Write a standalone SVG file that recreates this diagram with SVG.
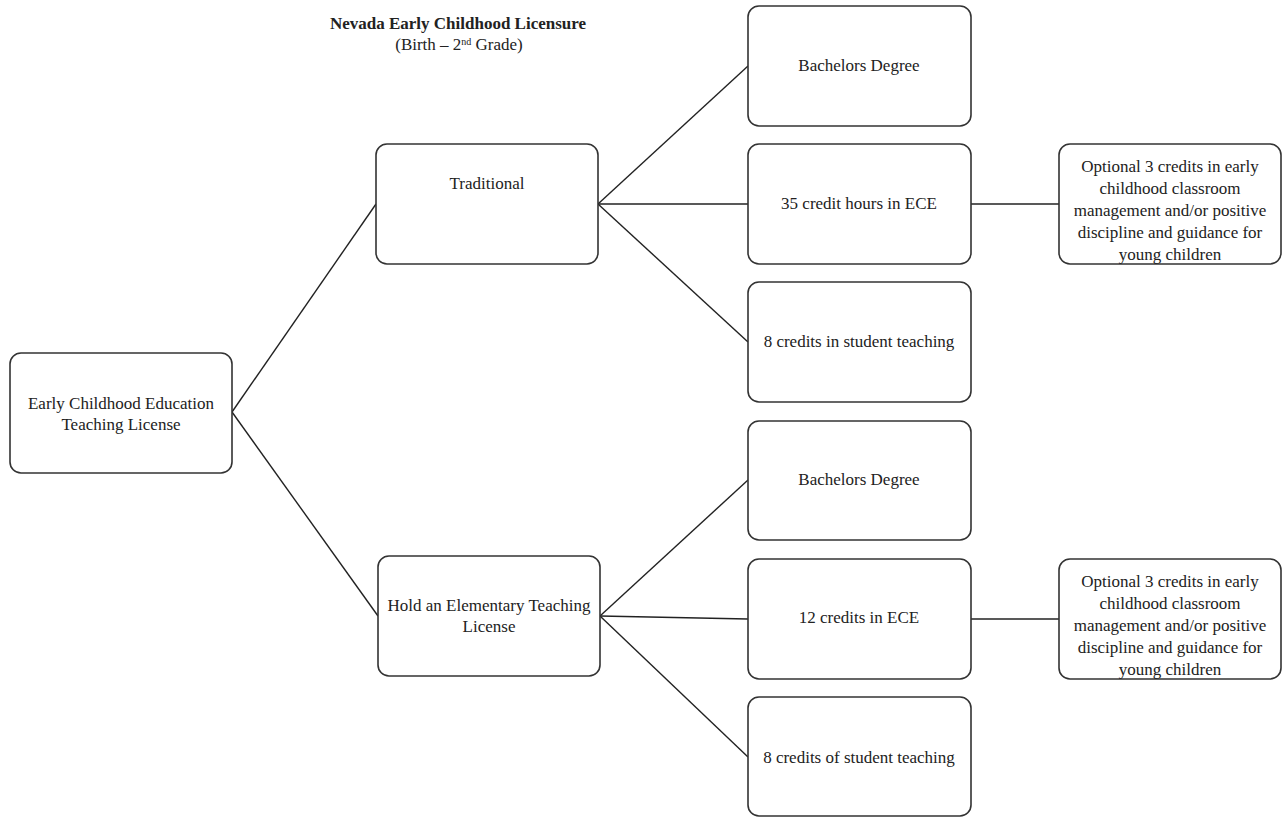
<svg xmlns="http://www.w3.org/2000/svg" width="1284" height="818" viewBox="0 0 1284 818">
<style>
.box{fill:#fff;stroke:#333;stroke-width:1.6}
.t{font-family:"Liberation Serif",serif;font-size:17px;fill:#222;text-anchor:middle}
.b{font-weight:bold}
.c line{stroke:#222;stroke-width:1.4}
</style>
<rect width="1284" height="818" fill="#fff"/>
<g id="title">
<text class="t b" x="458" y="29">Nevada Early Childhood Licensure</text>
<text class="t" x="459" y="50">(Birth – 2<tspan font-size="10" dy="-5">nd</tspan><tspan dy="5"> Grade)</tspan></text>
</g>
<g class="c" id="connectors">
<line x1="232" y1="412" x2="376" y2="204"/>
<line x1="232" y1="412" x2="378" y2="616"/>
<line x1="598" y1="204" x2="748" y2="66"/>
<line x1="598" y1="204" x2="748" y2="204"/>
<line x1="598" y1="204" x2="748" y2="342"/>
<line x1="600" y1="616" x2="748" y2="480"/>
<line x1="600" y1="616" x2="748" y2="619"/>
<line x1="600" y1="616" x2="748" y2="757"/>
<line x1="971" y1="204" x2="1059" y2="204"/>
<line x1="971" y1="619" x2="1059" y2="619"/>
</g>
<g id="root"><rect class="box" x="10" y="353" width="222" height="120" rx="11"/>
<text class="t" x="121" y="409">Early Childhood Education</text>
<text class="t" x="121" y="430">Teaching License</text></g>
<g id="traditional"><rect class="box" x="376" y="144" width="222" height="120" rx="11"/>
<text class="t" x="487" y="189">Traditional</text></g>
<g id="hold"><rect class="box" x="378" y="556" width="222" height="120" rx="11"/>
<text class="t" x="489" y="611">Hold an Elementary Teaching</text>
<text class="t" x="489" y="632">License</text></g>
<g id="bach1"><rect class="box" x="748" y="6" width="223" height="120" rx="11"/>
<text class="t" x="859" y="71">Bachelors Degree</text></g>
<g id="ece35"><rect class="box" x="748" y="144" width="223" height="120" rx="11"/>
<text class="t" x="859" y="209">35 credit hours in ECE</text></g>
<g id="st8a"><rect class="box" x="748" y="282" width="223" height="120" rx="11"/>
<text class="t" x="859" y="347">8 credits in student teaching</text></g>
<g id="bach2"><rect class="box" x="748" y="421" width="223" height="119" rx="11"/>
<text class="t" x="859" y="485">Bachelors Degree</text></g>
<g id="ece12"><rect class="box" x="748" y="559" width="223" height="120" rx="11"/>
<text class="t" x="859" y="623">12 credits in ECE</text></g>
<g id="st8b"><rect class="box" x="748" y="697" width="223" height="119" rx="11"/>
<text class="t" x="859" y="763">8 credits of student teaching</text></g>
<g id="opt1"><rect class="box" x="1059" y="144" width="222" height="120" rx="11"/>
<text class="t" x="1170" y="172">Optional 3 credits in early</text>
<text class="t" x="1170" y="194">childhood classroom</text>
<text class="t" x="1170" y="216">management and/or positive</text>
<text class="t" x="1170" y="238">discipline and guidance for</text>
<text class="t" x="1170" y="260">young children</text></g>
<g id="opt2"><rect class="box" x="1059" y="559" width="222" height="120" rx="11"/>
<text class="t" x="1170" y="587">Optional 3 credits in early</text>
<text class="t" x="1170" y="609">childhood classroom</text>
<text class="t" x="1170" y="631">management and/or positive</text>
<text class="t" x="1170" y="653">discipline and guidance for</text>
<text class="t" x="1170" y="675">young children</text></g>
</svg>
